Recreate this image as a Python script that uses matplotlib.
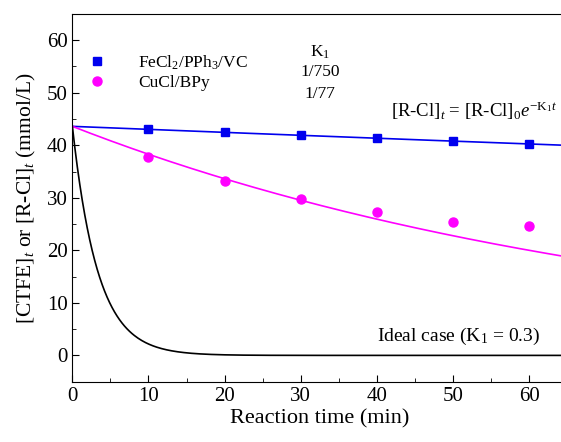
import numpy as np
import matplotlib.pyplot as plt
from matplotlib.ticker import MultipleLocator

plt.rcParams['font.family'] = ['Liberation Serif', 'DejaVu Serif']
plt.rcParams['mathtext.fontset'] = 'custom'
plt.rcParams['mathtext.rm'] = 'Liberation Serif'
plt.rcParams['mathtext.it'] = 'Liberation Serif:italic'

# measured concentrations
t_pts = [10, 20, 30, 40, 50, 60]
fe_pts = [43.1, 42.6, 42.0, 41.4, 40.9, 40.3]
cu_pts = [37.7, 33.2, 29.8, 27.3, 25.4, 24.6]

# first-order model parameters
c0 = 43.6
k_fe = 1 / 750
k_cu = 1 / 77
k_ideal = 0.3

t = np.linspace(0, 65, 400)

fig = plt.figure(figsize=(5.61, 4.42), dpi=100)
ax = fig.add_axes([0.129, 0.1365, 0.882, 0.832])

ax.plot(t, c0 * np.exp(-k_fe * t), color='#0000ee', lw=1.2)
ax.plot(t, c0 * np.exp(-k_cu * t), color='#ff00ff', lw=1.2)
ax.plot(t, c0 * np.exp(-k_ideal * t), color='black', lw=1.2)

ax.plot(t_pts, fe_pts, 's', color='#0000ee', ms=5.5, label='FeCl$_2$/PPh$_3$/VC')
ax.plot(t_pts, cu_pts, 'o', color='#ff00ff', ms=6.5, label='CuCl/BPy')

ax.set_xlim(0, 65)
ax.set_ylim(-5, 65)
ax.xaxis.set_major_locator(MultipleLocator(10))
ax.xaxis.set_minor_locator(MultipleLocator(5))
ax.yaxis.set_major_locator(MultipleLocator(10))
ax.yaxis.set_minor_locator(MultipleLocator(5))
ax.tick_params(which='both', direction='in', labelsize=15)
ax.tick_params(which='major', length=5)
ax.tick_params(which='minor', length=3)
ax.spines['right'].set_visible(False)

ax.set_xlabel('Reaction time (min)', fontsize=16, labelpad=3)
ax.set_ylabel('[CTFE]$_{\\mathit{t}}$ or [R-Cl]$_{\\mathit{t}}$ (mmol/L)', fontsize=15.5, labelpad=6)

ax.legend(loc='upper left', bbox_to_anchor=(0.0, 0.935), frameon=False,
          fontsize=12.5, handlelength=1.0, handletextpad=1.9, labelspacing=0.2)

ax.text(0.50, 0.885, 'K$_1$', transform=ax.transAxes, fontsize=12.5, ha='center')
ax.text(0.50, 0.83, '1/750', transform=ax.transAxes, fontsize=12.5, ha='center')
ax.text(0.50, 0.772, '1/77', transform=ax.transAxes, fontsize=12.5, ha='center')

ax.text(0.98, 0.72, '[R-Cl]$_{\\mathit{t}}$ = [R-Cl]$_0$$\\mathit{e}^{-\\mathrm{K}_1 \\mathit{t}}$',
        transform=ax.transAxes, fontsize=13.5, ha='right')
ax.text(0.78, 0.11, 'Ideal case (K$_1$ = 0.3)', transform=ax.transAxes, fontsize=14, ha='center')

fig.savefig('out.png', dpi=100)
